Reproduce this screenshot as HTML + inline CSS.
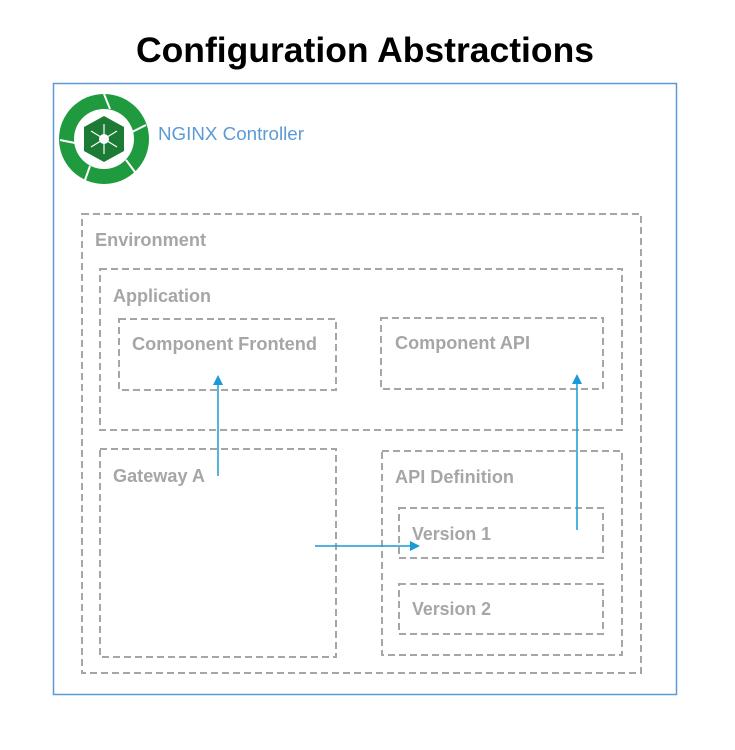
<!DOCTYPE html>
<html><head><style>
html,body{margin:0;padding:0;background:#fff;}
svg{display:block;}
text{font-family:"Liberation Sans",sans-serif;}
</style></head><body>
<svg width="735" height="750" viewBox="0 0 735 750" xmlns="http://www.w3.org/2000/svg">
<defs>
<marker id="ah" markerWidth="10" markerHeight="10" refX="8" refY="5" orient="auto" markerUnits="userSpaceOnUse">
<path d="M0,0 L10,5 L0,10 z" fill="#1a9ad6"/>
</marker>
</defs>
<text x="365" y="62" text-anchor="middle" font-size="35" font-weight="bold" fill="#000" textLength="458" lengthAdjust="spacingAndGlyphs">Configuration Abstractions</text>
<rect x="53.5" y="83.5" width="623" height="611" fill="none" stroke="#5a9bd5" stroke-width="1.5"/>
<circle cx="104" cy="139" r="45" fill="#1f9a3f"/>
<circle cx="104" cy="139" r="30" fill="#fff"/>
<g stroke="#fff" stroke-width="2">
<line x1="104" y1="94" x2="110" y2="109"/>
<line x1="146" y1="125" x2="132" y2="132"/>
<line x1="135" y1="172" x2="126" y2="160"/>
<line x1="85" y1="180" x2="90" y2="166"/>
<line x1="60" y1="140" x2="75" y2="143"/>
</g>
<polygon points="104,116 124,127 124,151 104,162 84,151 84,127" fill="#1b7a34"/>
<circle cx="104" cy="139" r="5" fill="#fff"/>
<g stroke="#fff" stroke-width="1.2"><line x1="104" y1="139" x2="104" y2="124"/><line x1="104" y1="139" x2="117" y2="131"/><line x1="104" y1="139" x2="117" y2="147"/><line x1="104" y1="139" x2="104" y2="154"/><line x1="104" y1="139" x2="91" y2="147"/><line x1="104" y1="139" x2="91" y2="131"/></g>
<text x="158" y="140" font-size="18" fill="#5a9bd5" textLength="146" lengthAdjust="spacingAndGlyphs">NGINX Controller</text>
<g fill="none" stroke="#a6a6a6" stroke-width="2" stroke-dasharray="7,4">
<rect x="82" y="214" width="559" height="459"/>
<rect x="100" y="269" width="522" height="161"/>
<rect x="119" y="319" width="217" height="71"/>
<rect x="381" y="318" width="222" height="71"/>
<rect x="100" y="449" width="236" height="208"/>
<rect x="382" y="451" width="240" height="204"/>
<rect x="399" y="508" width="204" height="50"/>
<rect x="399" y="584" width="204" height="50"/>
</g>
<g font-size="18" font-weight="bold" fill="#a6a6a6">
<text x="95" y="246" textLength="111" lengthAdjust="spacingAndGlyphs">Environment</text>
<text x="113" y="302" textLength="98" lengthAdjust="spacingAndGlyphs">Application</text>
<text x="132" y="350" textLength="185" lengthAdjust="spacingAndGlyphs">Component Frontend</text>
<text x="395" y="349" textLength="135" lengthAdjust="spacingAndGlyphs">Component API</text>
<text x="113" y="482" textLength="92" lengthAdjust="spacingAndGlyphs">Gateway A</text>
<text x="395" y="483" textLength="119" lengthAdjust="spacingAndGlyphs">API Definition</text>
<text x="412" y="540" textLength="79" lengthAdjust="spacingAndGlyphs">Version 1</text>
<text x="412" y="615" textLength="79" lengthAdjust="spacingAndGlyphs">Version 2</text>
</g>
<g stroke="#1a9ad6" stroke-width="1.5" fill="none">
<line x1="218" y1="476" x2="218" y2="377" marker-end="url(#ah)"/>
<line x1="577" y1="530" x2="577" y2="376" marker-end="url(#ah)"/>
<line x1="315" y1="546" x2="418" y2="546" marker-end="url(#ah)"/>
</g>
</svg>
</body></html>
